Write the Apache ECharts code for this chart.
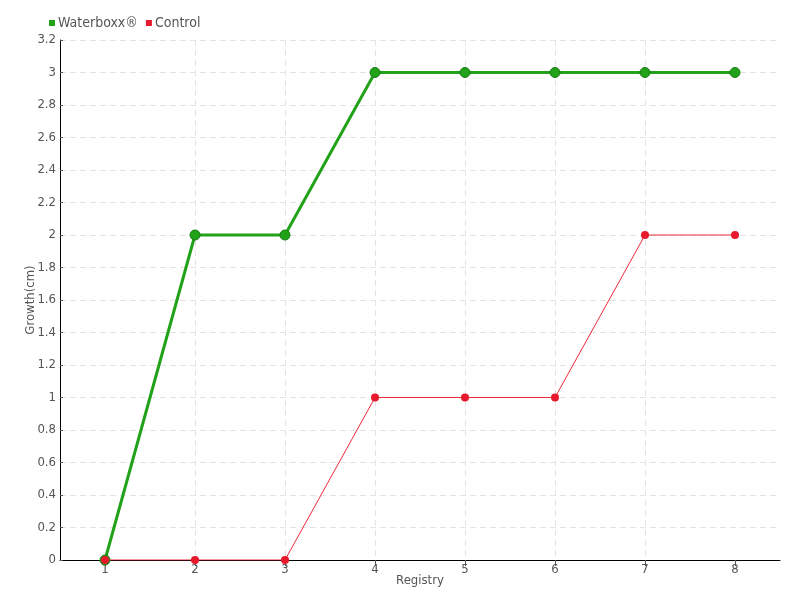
<!DOCTYPE html>
<html><head><meta charset="utf-8">
<script src="https://cdn.jsdelivr.net/npm/echarts@6/dist/echarts.min.js"></script>
<style>html,body{margin:0;padding:0;background:#fff}#c{width:800px;height:600px}</style>
</head><body><div id="c"></div>
<script>
const registry = [1, 2, 3, 4, 5, 6, 7, 8];
const waterboxx = [0, 2, 2, 3, 3, 3, 3, 3];
const control = [0, 0, 0, 1, 1, 1, 2, 2];
const seriesNames = ['Waterboxx®', 'Control'];

const font = '"DejaVu Sans Condensed", "Liberation Sans Narrow", sans-serif';
const chart = echarts.init(document.getElementById('c'));
chart.setOption({
  animation: false,
  textStyle: { fontFamily: font },
  legend: {
    left: 44, top: 11, itemWidth: 6, itemHeight: 6, itemGap: 8,
    icon: 'rect',
    itemStyle: { borderWidth: 0 },
    textStyle: { color: '#555', fontSize: 14, fontFamily: font, padding: [0, 0, 0, -2] },
    data: seriesNames
  },
  grid: { left: 60, right: 20, top: 40, bottom: 40 },
  xAxis: {
    type: 'value', min: 0.5, max: 8.5, interval: 1,
    name: 'Registry', nameLocation: 'middle', nameGap: 14, nameMoveOverlap: false,
    nameTextStyle: { color: '#555', fontSize: 13, fontFamily: font },
    axisLine: { lineStyle: { color: '#000', width: 1 } },
    axisTick: { show: true, length: 6, lineStyle: { color: '#555' }, customValues: registry },
    axisLabel: { color: '#555', fontSize: 13, margin: 3, customValues: registry, fontFamily: font },
    splitLine: { show: true, lineStyle: { color: '#e4e4e4', type: [6, 4] }, showMinLine: false, showMaxLine: false },
    minorTick: { show: false }
  },
  yAxis: {
    type: 'value', min: 0, max: 3.2, interval: 0.2,
    name: 'Growth(cm)', nameLocation: 'middle', nameGap: 23, nameMoveOverlap: false,
    nameTextStyle: { color: '#555', fontSize: 13, fontFamily: font },
    axisLine: { show: true, lineStyle: { color: '#000', width: 1 } },
    axisTick: { show: true, inside: true, length: 3, lineStyle: { color: '#555' } },
    axisLabel: { color: '#555', fontSize: 13, margin: 4, fontFamily: font, formatter: v => String(+v.toFixed(1)) },
    splitLine: { show: true, lineStyle: { color: '#e4e4e4', type: [6, 4] } }
  },
  series: [
    {
      name: seriesNames[0], type: 'line', z: 2,
      data: registry.map((r, i) => [r, waterboxx[i]]),
      color: '#1f9f14',
      lineStyle: { width: 3, color: '#22a218' },
      symbol: 'circle', symbolSize: 10,
      itemStyle: { color: '#22a218', borderColor: '#187a12', borderWidth: 1 }
    },
    {
      name: seriesNames[1], type: 'line', z: 3,
      data: registry.map((r, i) => [r, control[i]]),
      color: '#e8192c',
      lineStyle: { width: 1, color: '#ee2a3a' },
      symbol: 'circle', symbolSize: 8,
      itemStyle: { color: '#e8192c' }
    }
  ]
});
</script></body></html>
